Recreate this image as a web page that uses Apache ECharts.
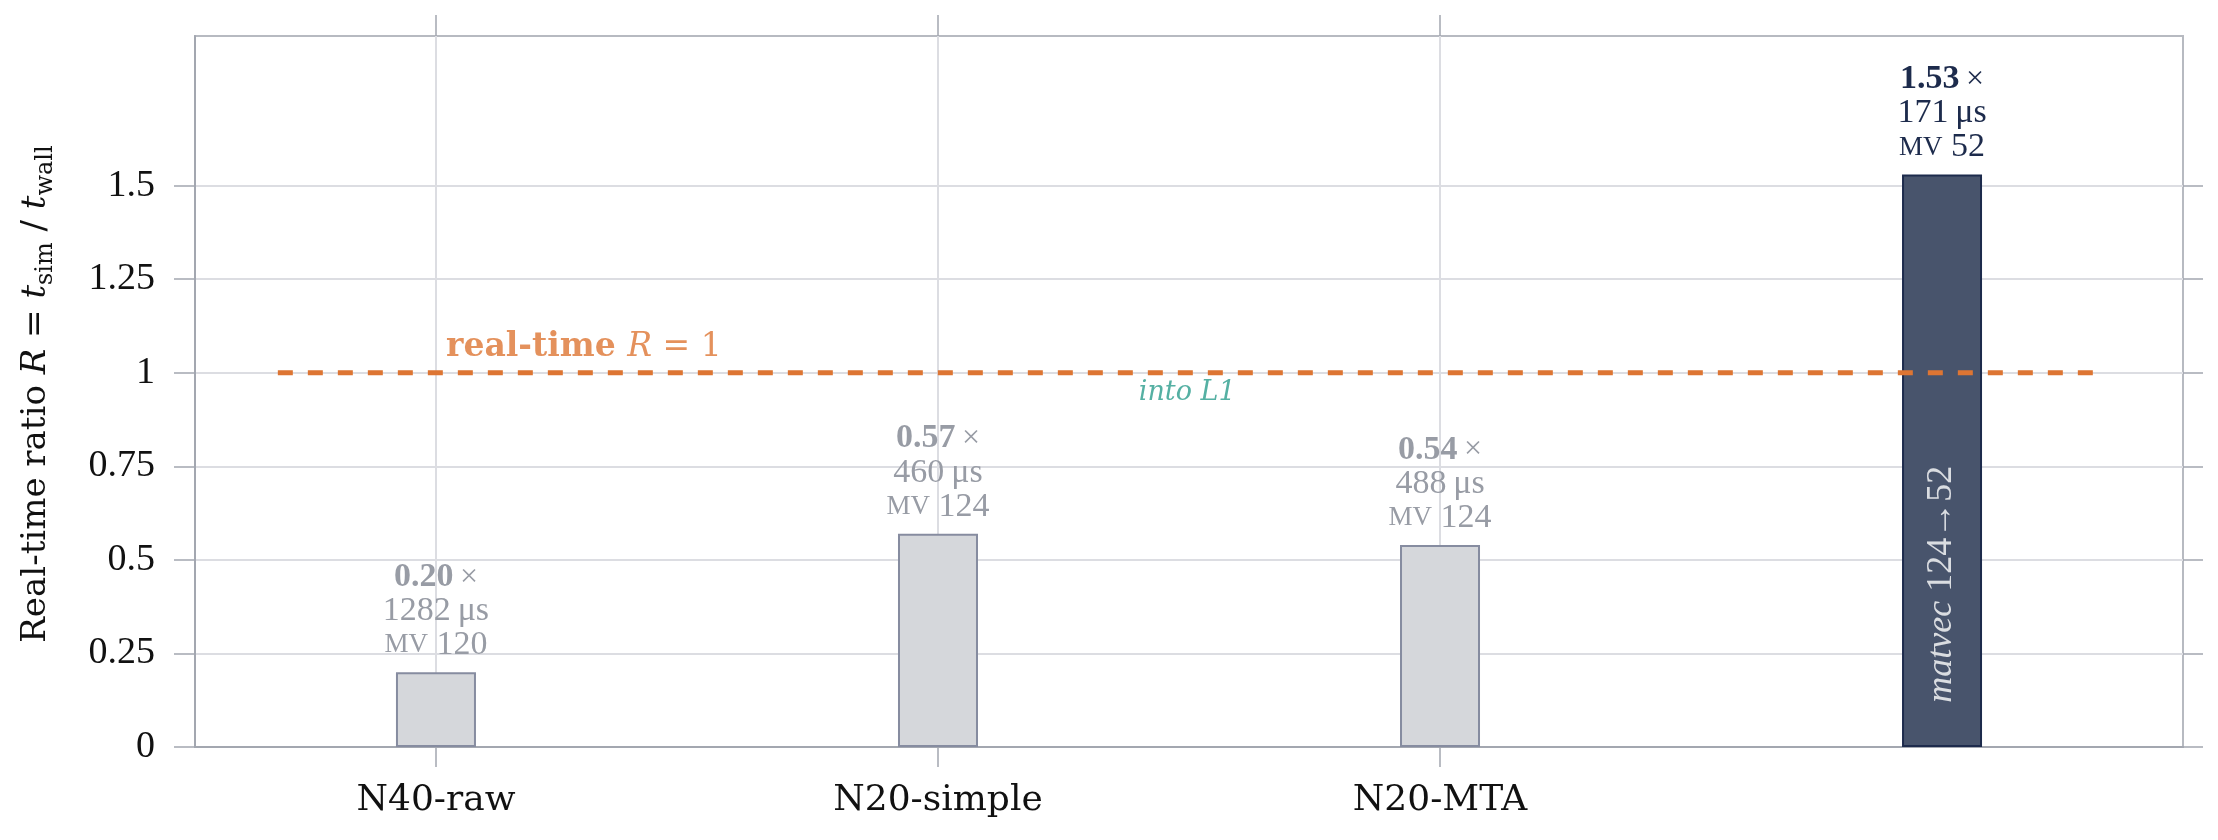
<!DOCTYPE html>
<html>
<head>
<meta charset="utf-8">
<script src="https://cdn.jsdelivr.net/npm/echarts@6/dist/echarts.min.js"></script>
<style>
  html, body { margin: 0; padding: 0; background: #fff; }
  #chart { width: 2218px; height: 840px; }
</style>
</head>
<body>
<div id="chart"></div>
<script>
// data
var categories = ["N40-raw", "N20-simple", "N20-MTA", ""];
var ratios = [0.20, 0.57, 0.54, 1.53];
var timesUs = [1282, 460, 488, 171];
var mvCounts = [120, 124, 124, 52];
var yTicks = [0, 0.25, 0.5, 0.75, 1, 1.25, 1.5];
var realTime = 1;
var realTimeSpan = [-0.315, 3.315];

// x positions of the labelled categories
var xTicks = categories.map(function (c, i) { return c ? i : null; })
  .filter(function (v) { return v !== null; });

var GRID = "#dcdde2";
var AXIS = "#a3a7b0";
var GREY_TXT = "#989ca5";
var NAVY = "#1d2b4c";
var ORANGE = "#dd7533";
var TEAL = "#2b9c8c";
var SP = "\u00a0";

var chartDom = document.getElementById("chart");
var myChart = echarts.init(chartDom);

// bar data, the one above real-time gets the dark style
var barData = ratios.map(function (v, i) {
  var fast = v >= realTime;
  return {
    value: [i, v],
    itemStyle: {
      color: fast ? "#48546c" : "#d5d7db",
      borderColor: fast ? NAVY : "#868ca0",
      borderWidth: 2
    },
    label: { color: fast ? NAVY : GREY_TXT }
  };
});

var fastIdx = ratios.findIndex(function (v) { return v >= realTime; });
var slowIdx = fastIdx - 1;

// text notes placed in data coordinates
var notes = [
  {
    value: [0.02, 1.025],
    label: {
      formatter: "{b|real-time" + SP + "}{i|R}{r|" + SP + "=" + SP + "1}",
      align: "left",
      verticalAlign: "bottom",
      rich: {
        b: { fontWeight: "bold", fontSize: 33, fontFamily: "DejaVu Serif", color: ORANGE },
        i: { fontStyle: "italic", fontSize: 33, fontFamily: "DejaVu Serif", color: ORANGE },
        r: { fontSize: 33, fontFamily: "DejaVu Serif", color: ORANGE }
      }
    }
  },
  {
    value: [1.40, 0.982],
    label: {
      formatter: "{t|into L1}",
      align: "left",
      verticalAlign: "top",
      rich: {
        t: { color: TEAL, fontStyle: "italic", fontFamily: "DejaVu Serif", fontSize: 27 }
      }
    }
  },
  {
    value: [fastIdx, 0.435],
    label: {
      formatter: "{i|matvec" + SP + "}{r|" + mvCounts[slowIdx] + "\u2192" + mvCounts[fastIdx] + "}",
      rotate: 90,
      align: "center",
      verticalAlign: "middle",
      rich: {
        i: { fontStyle: "italic", fontFamily: "Liberation Serif", fontSize: 36, color: "#ffffff" },
        r: { fontFamily: "Liberation Serif", fontSize: 36, color: "#ffffff" }
      }
    }
  }
];

var option = {
  animation: false,
  backgroundColor: "#ffffff",
  grid: {
    left: 195,
    right: 35,
    top: 36,
    bottom: 93,
    show: true,
    borderColor: "#b7bac1",
    borderWidth: 2
  },
  // y axis title, drawn as rotated rich text
  graphic: [
    {
      type: "text",
      x: 36,
      y: 394,
      rotation: Math.PI / 2,
      style: {
        text: "{r|Real-time ratio" + SP + "}{i|R}{r|" + SP + "=" + SP + "}{i|t}{s|sim}{r|" + SP + "/" + SP + "}{i|t}{s|wall}",
        align: "center",
        verticalAlign: "middle",
        fill: "#111",
        font: "34px 'DejaVu Serif'",
        rich: {
          r: { fontFamily: "DejaVu Serif", fontSize: 34, lineHeight: 44, fill: "#111" },
          i: { fontStyle: "italic", fontFamily: "DejaVu Serif", fontSize: 34, lineHeight: 44, fill: "#111" },
          s: { fontFamily: "DejaVu Serif", fontSize: 24, lineHeight: 26, verticalAlign: "bottom", fill: "#111" }
        }
      }
    }
  ],
  xAxis: [
    {
      type: "value",
      min: -0.48,
      max: 3.48,
      position: "bottom",
      axisLine: { show: true, onZero: false, lineStyle: { color: AXIS, width: 2 } },
      axisTick: { show: true, customValues: xTicks, length: 20, lineStyle: { color: AXIS, width: 1.5 } },
      axisLabel: {
        customValues: xTicks,
        formatter: function (v) { return categories[Math.round(v)]; },
        margin: 36,
        fontFamily: "DejaVu Serif",
        fontSize: 36,
        color: "#111"
      },
      splitLine: { show: true, customValues: xTicks, lineStyle: { color: GRID, width: 2 } }
    },
    {
      // top copy, only for the ticks above the frame
      type: "value",
      min: -0.48,
      max: 3.48,
      position: "top",
      axisLine: { show: false, onZero: false },
      axisTick: { show: true, customValues: xTicks, length: 21, lineStyle: { color: AXIS, width: 1.5 } },
      axisLabel: { show: false },
      splitLine: { show: false }
    }
  ],
  yAxis: [
    {
      type: "value",
      min: 0,
      max: 1.9,
      position: "left",
      axisLine: { show: true, onZero: false, lineStyle: { color: AXIS, width: 2 } },
      axisTick: { show: true, customValues: yTicks, length: 21, lineStyle: { color: AXIS, width: 1.5 } },
      axisLabel: {
        customValues: yTicks,
        margin: 40,
        fontFamily: "Liberation Serif",
        fontSize: 38,
        color: "#111"
      },
      splitLine: { show: true, customValues: yTicks, lineStyle: { color: GRID, width: 2 } }
    },
    {
      // right copy, ticks only
      type: "value",
      min: 0,
      max: 1.9,
      position: "right",
      axisLine: { show: false, onZero: false },
      axisTick: { show: true, customValues: yTicks, length: 20, lineStyle: { color: AXIS, width: 1.5 } },
      axisLabel: { show: false },
      splitLine: { show: false }
    }
  ],
  series: [
    {
      name: "ratio",
      type: "bar",
      xAxisIndex: 0,
      yAxisIndex: 0,
      barWidth: 80,
      data: barData,
      label: {
        show: true,
        position: "top",
        distance: 10,
        fontFamily: "Liberation Serif",
        fontSize: 34,
        lineHeight: 34,
        formatter: function (p) {
          var i = p.dataIndex;
          return "{b|" + ratios[i].toFixed(2) + "}{x|\u2009\u00d7}\n" +
            "{n|" + timesUs[i] + "\u2009\u03bcs}\n" +
            "{sc|MV}{n|" + SP + mvCounts[i] + "}";
        },
        rich: {
          b: { fontWeight: "bold", fontFamily: "Liberation Serif", fontSize: 34, lineHeight: 34 },
          x: { fontFamily: "Liberation Serif", fontSize: 32, lineHeight: 34 },
          n: { fontFamily: "Liberation Serif", fontSize: 34, lineHeight: 34 },
          sc: { fontFamily: "Liberation Serif", fontSize: 27, lineHeight: 34 }
        }
      }
    },
    {
      name: "real-time",
      type: "line",
      xAxisIndex: 0,
      yAxisIndex: 0,
      symbol: "none",
      data: [[realTimeSpan[0], realTime], [realTimeSpan[1], realTime]],
      lineStyle: { color: ORANGE, width: 5, type: [15, 15] },
      z: 5
    },
    {
      name: "notes",
      type: "scatter",
      xAxisIndex: 0,
      yAxisIndex: 0,
      symbolSize: 0,
      data: notes,
      label: { show: true, position: "inside" },
      z: 6
    }
  ]
};

option && myChart.setOption(option);
</script>
</body>
</html>
